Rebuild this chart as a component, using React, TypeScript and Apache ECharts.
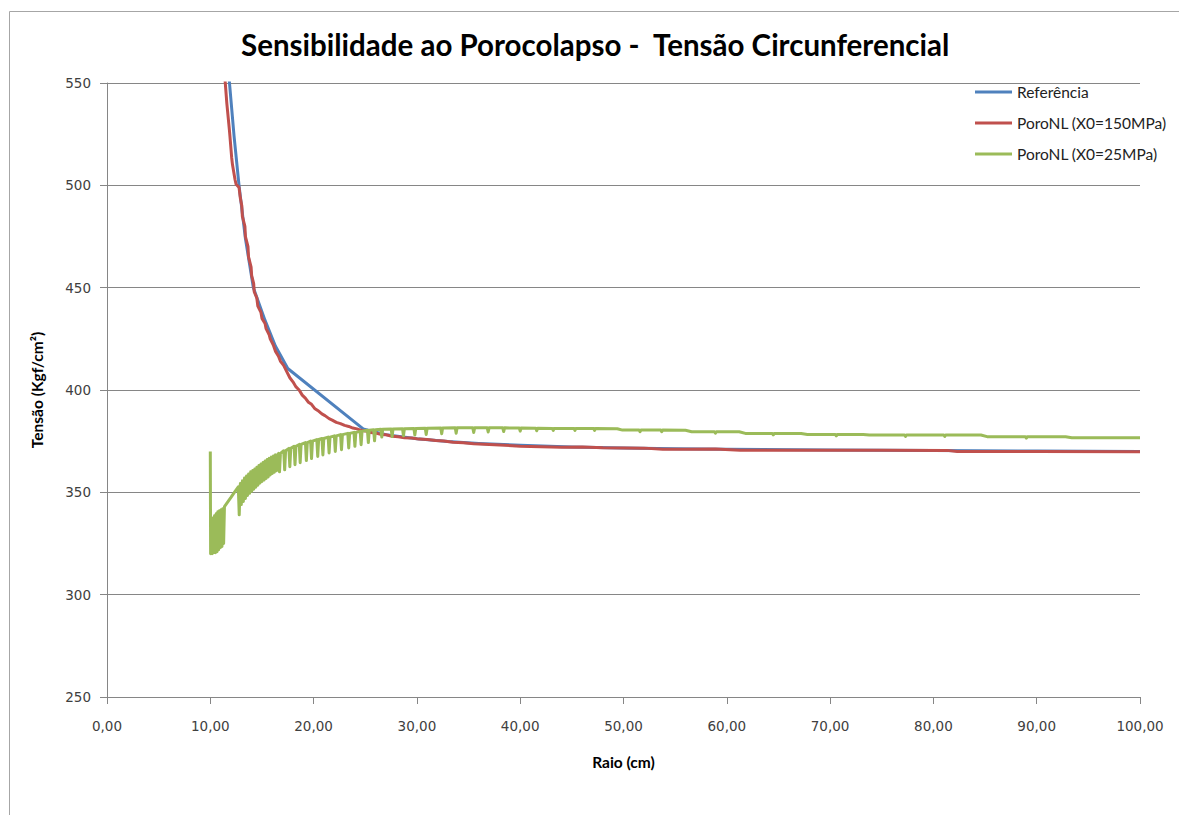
import React, { useEffect, useRef } from "react";
import * as echarts from "echarts";

const TITLE = "Sensibilidade ao Porocolapso -  Tensão Circunferencial";
const X_NAME = "Raio (cm)";
const Y_NAME = "Tensão (Kgf/cm²)";
const SERIES_NAMES = ["Referência", "PoroNL (X0=150MPa)", "PoroNL (X0=25MPa)"];
const COLORS = ["#4F81BD", "#C0504D", "#9BBB59"];

const X_MIN = 0;
const X_MAX = 100;
const X_STEP = 10;
const Y_MIN = 250;
const Y_MAX = 550;
const Y_STEP = 50;

// Analytic reference solution [raio, tensão]
const referencia: [number, number][] = [
  [11.84, 551], [12.3, 524], [12.78, 500], [13.4, 474], [14.17, 450],
  [15.3, 434], [16.3, 421.5], [17.5, 410.5], [24.8, 381], [27, 378.2],
  [30, 376.2], [33, 374.8], [36, 373.9], [40, 373.0], [45, 372.2],
  [50, 371.7], [55, 371.3], [60, 371.0], [70, 370.7], [80, 370.4],
  [90, 370.2], [100, 370.0],
];

// PoroNL, X0 = 150 MPa [raio, tensão]
const poroNL150: [number, number][] = [
  [11.42, 552], [11.6, 540], [11.85, 527], [11.9, 524], [12.07, 513.5],
  [12.15, 510], [12.4, 502.6], [12.5, 500.5], [12.78, 499], [12.9, 494],
  [13.05, 490], [13.1, 485], [13.35, 480], [13.4, 475], [13.65, 470],
  [13.7, 465], [13.95, 460], [14.0, 456], [14.2, 452], [14.25, 448],
  [14.5, 445], [14.6, 441], [14.9, 438], [15.0, 435], [15.3, 432.5],
  [15.4, 430], [15.7, 427], [15.8, 425], [16.1, 422], [16.3, 419],
  [16.6, 416.5], [16.8, 414], [17.1, 412], [17.4, 409], [17.7, 406],
  [18.0, 404], [18.3, 401.5], [18.6, 400], [18.9, 397.5], [19.2, 396],
  [19.5, 394], [19.8, 393], [20.1, 391], [20.4, 390], [20.8, 388.3],
  [21.1, 387.5], [21.5, 386], [21.8, 385.3], [22.2, 384.2], [22.6, 383.6],
  [23.0, 382.7], [23.4, 382.2], [23.8, 381.4], [24.2, 381.0], [24.6, 380.3],
  [25.0, 380.0], [25.5, 379.2], [26.0, 379.0], [26.5, 378.3], [27.0, 378.1],
  [27.6, 377.4], [28.2, 377.2], [28.8, 376.7], [29.5, 376.5], [30.2, 376.0],
  [31.0, 375.8], [31.8, 375.3], [32.6, 375.1], [33.5, 374.5], [34.5, 374.2],
  [35.5, 373.7], [36.5, 373.5], [37.5, 373.2], [38.5, 373.0], [40, 372.5],
  [42, 372.3], [44, 372.0], [46, 372.2], [48, 371.8], [50, 371.7],
  [52, 371.6], [53.8, 371.1], [56, 371.0], [58.9, 371.2], [61.3, 370.6],
  [65, 370.6], [70, 370.6], [75, 370.6], [81.3, 370.5], [82.3, 369.9],
  [90, 369.9], [100, 369.8],
];

// PoroNL, X0 = 25 MPa: first points near the wall [raio, tensão]
const poroNL25Start: [number, number][] = [
  [10.0, 370], [10.03, 320], [10.1, 336], [10.17, 320], [10.25, 337.5],
  [10.33, 320.5], [10.41, 338.5], [10.49, 320.5], [10.57, 339.5], [10.65, 321],
  [10.73, 340.5], [10.81, 322], [10.89, 341], [10.97, 323], [11.05, 341.5],
  [11.13, 323.5], [11.21, 342], [11.29, 325], [11.37, 343], [12.0, 347.5],
  [12.4, 350.5],
];

// PoroNL, X0 = 25 MPa: oscillation teeth [raio, topo, fundo]
const poroNL25Teeth: [number, number, number][] = [
  [12.8, 352.7, 339], [13.0, 354.3, 344], [13.2, 355.6, 345.5], [13.4, 357, 347],
  [13.6, 358, 348.5], [13.8, 359, 349.5], [14.0, 360, 350.5], [14.2, 360.7, 351.5],
  [14.4, 361.4, 352.5], [14.6, 362.3, 353.5], [14.8, 363.1, 354.5], [15.0, 363.9, 355.3],
  [15.2, 364.6, 356], [15.4, 365.3, 356.8], [15.6, 366, 357.5], [15.8, 366.6, 358.5],
  [16.0, 367.2, 359.2], [16.2, 367.8, 359.8], [16.4, 368.3, 360.5],
  [16.7, 369, 360], [17.2, 370.3, 361], [17.7, 371.5, 362.5],
  [18.2, 372.5, 363.5], [18.7, 373.4, 364.5], [19.3, 374.3, 365.5], [19.8, 375, 366.5],
  [20.4, 375.8, 367.5], [20.9, 376.3, 368.3], [21.5, 377, 369.2], [22.1, 377.6, 370],
  [22.7, 378.2, 370.8], [23.4, 378.8, 371.7], [24.0, 379.3, 372.5], [24.6, 379.8, 373.3],
  [25.3, 380.3, 374.3], [25.9, 380.6, 375.2], [26.6, 380.8, 377], [27.6, 381, 377.3],
  [28.7, 381.1, 377.6], [29.8, 381.2, 378], [30.9, 381.3, 378.3], [32.4, 381.4, 378.6],
  [33.8, 381.5, 378.9], [35.5, 381.5, 379.2], [36.9, 381.5, 379.5], [38.4, 381.5, 379.7],
  [40.0, 381.4, 379.9], [41.6, 381.3, 380.1], [43.2, 381.2, 380.3], [45.3, 381.2, 380.3],
  [47.2, 381.2, 380.3], [51.6, 380.4, 379.6], [53.7, 380.4, 379.6], [58.9, 379.6, 378.9],
  [64.5, 378.8, 378.1], [70.6, 378.3, 377.6], [77.3, 378.0, 377.3], [81.1, 378.0, 377.3],
  [89.0, 377.2, 376.5],
];

// PoroNL, X0 = 25 MPa: far-field plateau steps [raio, tensão]
const poroNL25Tail: [number, number][] = [
  [43.9, 381.2], [49.4, 381.1], [49.9, 380.4], [56.0, 380.3], [56.6, 379.6],
  [61.2, 379.6], [61.8, 378.8], [67.2, 378.7], [67.8, 378.3], [73.2, 378.3],
  [73.8, 378.0], [84.6, 378.0], [85.2, 377.2], [92.8, 377.2], [93.4, 376.7],
  [100, 376.7],
];

// half width (in raio units) used to draw each tooth as a narrow spike
const TOOTH_HALF = 0.09;

function buildPoroNL25(): [number, number][] {
  const pts: [number, number][] = [...poroNL25Start, ...poroNL25Tail];
  poroNL25Teeth.forEach(([r, top, bottom]) => {
    pts.push([r - TOOTH_HALF, top], [r, bottom], [r + TOOTH_HALF, top]);
  });
  pts.sort((a, b) => a[0] - b[0]);
  return pts;
}

const fmtX = (v: number) => v.toFixed(2).replace(".", ",");

export default function App() {
  const ref = useRef<HTMLDivElement>(null);

  useEffect(() => {
    if (!ref.current) return;
    const chart = echarts.init(ref.current, undefined, { renderer: "svg" });
    const axisColor = "#868686";
    const labelStyle = {
      fontFamily: "DejaVu Sans",
      fontSize: 13.5,
      color: "#404040",
    };
    const nameStyle = {
      fontFamily: "Lato",
      fontWeight: "bold" as const,
      fontSize: 15.5,
      color: "#000000",
    };
    const seriesData = [referencia, poroNL150, buildPoroNL25()];

    chart.setOption({
      animation: false,
      backgroundColor: "#ffffff",
      title: {
        text: TITLE,
        left: 236,
        top: 24,
        textStyle: {
          fontFamily: "Lato",
          fontWeight: "bold",
          fontSize: 29.5,
          color: "#000000",
        },
      },
      legend: {
        orient: "vertical",
        left: 970,
        top: 78,
        itemWidth: 37,
        itemHeight: 3,
        itemGap: 13,
        icon: "rect",
        data: SERIES_NAMES,
        textStyle: {
          fontFamily: "Lato",
          fontSize: 15.5,
          lineHeight: 18,
          color: "#222222",
        },
      },
      graphic: [
        {
          type: "rect",
          silent: true,
          shape: { x: 9.5, y: 11.5, width: 1200, height: 900 },
          style: { fill: "none", stroke: "#a6a6a6", lineWidth: 1 },
        },
      ],
      grid: { left: 107, right: 39, top: 83, bottom: 118 },
      xAxis: {
        type: "value",
        min: X_MIN,
        max: X_MAX,
        interval: X_STEP,
        name: X_NAME,
        nameLocation: "middle",
        nameGap: 57,
        nameTextStyle: nameStyle,
        axisLine: { show: true, lineStyle: { color: axisColor, width: 1 } },
        axisTick: { show: true, length: 7, lineStyle: { color: axisColor } },
        axisLabel: { ...labelStyle, margin: 22, formatter: fmtX },
        splitLine: { show: false },
      },
      yAxis: {
        type: "value",
        min: Y_MIN,
        max: Y_MAX,
        interval: Y_STEP,
        name: Y_NAME,
        nameLocation: "middle",
        nameGap: 62,
        nameRotate: 90,
        nameTextStyle: nameStyle,
        axisLine: { show: true, lineStyle: { color: axisColor, width: 1 } },
        axisTick: { show: true, length: 7, lineStyle: { color: axisColor } },
        axisLabel: { ...labelStyle, margin: 16 },
        splitLine: { show: true, lineStyle: { color: axisColor, width: 1 } },
      },
      series: SERIES_NAMES.map((name, i) => ({
        name,
        type: "line",
        data: seriesData[i],
        showSymbol: false,
        symbol: "none",
        clip: true,
        color: COLORS[i],
        lineStyle: { color: COLORS[i], width: 3, join: "round" },
        z: 2 + i,
      })),
    });

    return () => chart.dispose();
  }, []);

  return (
    <div
      ref={ref}
      style={{ position: "absolute", left: 0, top: 0, width: 1179, height: 815 }}
    />
  );
}
